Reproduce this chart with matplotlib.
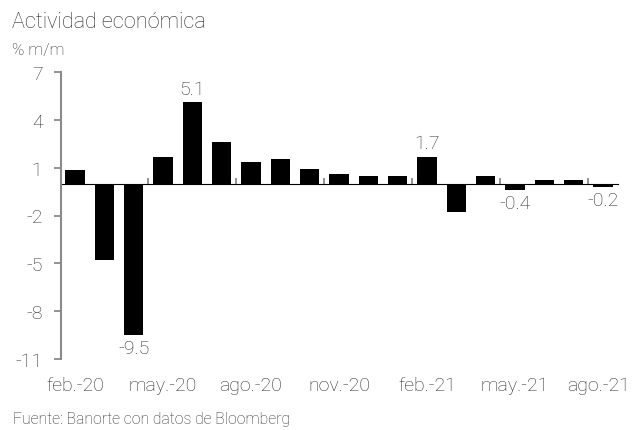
import matplotlib
matplotlib.use("Agg")
import matplotlib.pyplot as plt
import matplotlib.transforms as mtransforms
from matplotlib.ticker import FixedLocator, NullFormatter

plt.rcParams['font.family'] = ['Roboto', 'DejaVu Sans']
plt.rcParams['font.weight'] = 'light'

months = ["feb.-20", "mar.-20", "abr.-20", "may.-20", "jun.-20", "jul.-20",
          "ago.-20", "sep.-20", "oct.-20", "nov.-20", "dic.-20", "ene.-21",
          "feb.-21", "mar.-21", "abr.-21", "may.-21", "jun.-21", "jul.-21",
          "ago.-21"]
values = [0.85, -4.8, -9.5, 1.65, 5.1, 2.6, 1.35, 1.55, 0.9, 0.6, 0.45, 0.5,
          1.7, -1.75, 0.45, -0.4, 0.25, 0.25, -0.2]
labeled = {"abr.-20": -9.5, "jun.-20": 5.1, "feb.-21": 1.7,
           "may.-21": -0.4, "ago.-21": -0.2}
yticks = [7, 4, 1, -2, -5, -8, -11]

text_col = "#2e2e2e"
axis_col = "#8a8a8a"
fs = 14

fig = plt.figure(figsize=(6.33, 4.31), dpi=100)
ax = fig.add_axes([60.5 / 633, 1 - 360 / 431, 557 / 633, 287 / 431])

x = list(range(len(months)))
ax.bar(x, values, width=0.66, color="black", zorder=3)

ymin, ymax = -11, 7
ax.set_ylim(ymin, ymax)
ax.set_xlim(-0.5, len(months) - 0.5)
ax.set_yticks(yticks)
ax.set_yticklabels([str(t) for t in yticks])
ax.tick_params(axis="y", length=5, width=1.3, color=axis_col,
               labelsize=fs, pad=8)
for lbl in ax.get_yticklabels():
    lbl.set_color(text_col)

# month labels every quarter along the bottom
ax.set_xticks(x[::3])
ax.set_xticklabels(months[::3])
ax.tick_params(axis="x", length=0, labelsize=fs, pad=12)
xlabels = ax.get_xticklabels()
for lbl in xlabels:
    lbl.set_color(text_col)
# keep the last month label inside the canvas
xlabels[-1].set_transform(xlabels[-1].get_transform() +
                          mtransforms.ScaledTranslation(-4 / 100, 0, fig.dpi_scale_trans))

for s in ["top", "right", "bottom"]:
    ax.spines[s].set_visible(False)
ax.spines["left"].set_color(axis_col)
ax.spines["left"].set_linewidth(1.5)

# zero line with quarter separators
zero_frac = (0 - ymin) / (ymax - ymin)
sec = ax.secondary_xaxis(zero_frac)
sec.spines["bottom"].set_color(axis_col)
sec.spines["bottom"].set_linewidth(1.5)
sec.xaxis.set_major_locator(FixedLocator([i - 0.5 for i in x[3::3]]))
sec.xaxis.set_major_formatter(NullFormatter())
sec.tick_params(axis="x", length=4, width=1.3, color=axis_col)

# value annotations
for i, m in enumerate(months):
    if m in labeled:
        v = labeled[m]
        if v >= 0:
            ax.annotate(f"{v:.1f}", (i, v), xytext=(0, 3), textcoords="offset points",
                        ha="center", va="bottom", fontsize=fs, color=text_col)
        else:
            ax.annotate(f"{v:.1f}", (i, v), xytext=(0, -3), textcoords="offset points",
                        ha="center", va="top", fontsize=fs, color=text_col)

fig.text(12 / 633, 1 - 22 / 431, "Actividad económica", fontsize=15.6,
         color=text_col, va="center", ha="left")
fig.text(12 / 633, 1 - 50 / 431, "% m/m", fontsize=12, color=text_col,
         va="center", ha="left")
fig.text(13 / 633, 1 - 420 / 431, "Fuente: Banorte con datos de Bloomberg",
         fontsize=11.3, color=text_col, va="center", ha="left")

fig.savefig("out.png", dpi=100)
